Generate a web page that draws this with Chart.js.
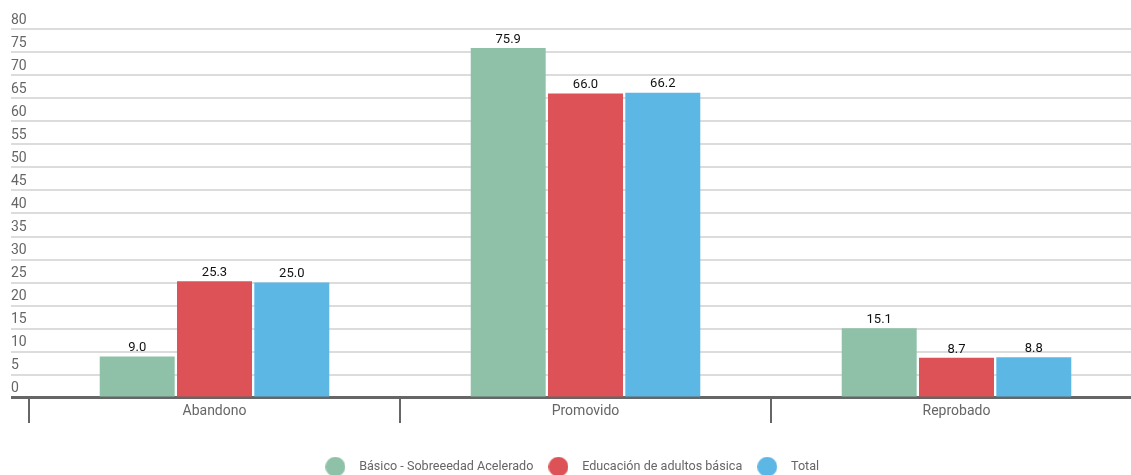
<!DOCTYPE html>
<html>
<head>
<meta charset="utf-8">
<script src="https://cdn.jsdelivr.net/npm/chart.js@4/dist/chart.umd.min.js"></script>
<style>
  html, body { margin: 0; padding: 0; background: #fff; overflow: hidden; }
  #wrap { position: relative; width: 1142px; height: 483px; }
</style>
</head>
<body>
<div id="wrap"><canvas id="estado-chart"></canvas></div>
<script>
// data
let categories = ['Abandono', 'Promovido', 'Reprobado']
let seriesNames = ['Básico - Sobreeedad Acelerado', 'Educación de adultos básica', 'Total']
let basicoValues = [9.0, 75.9, 15.1]
let adultosValues = [25.3, 66.0, 8.7]
let totalValues = [25.0, 66.2, 8.8]
let seriesColors = ['#8fc1a9', '#dc5257', '#5db7e5']

// round legend markers, 20px across
function makeDot(color) {
    let c = document.createElement('canvas')
    c.width = 20
    c.height = 20
    let g = c.getContext('2d')
    g.fillStyle = color
    g.beginPath()
    g.arc(10, 10, 10, 0, Math.PI * 2)
    g.fill()
    return c
}
let dots = seriesColors.map(makeDot)

// draw the value over each bar
let valueLabels = {
    id: 'valueLabels',
    afterLayout(chart) {
        // nudge the legend row a little to the left
        chart.legend.left -= 8
        chart.legend.right -= 8
    },
    afterDatasetsDraw(chart) {
        let ctx = chart.ctx
        ctx.save()
        ctx.font = '13px Roboto'
        ctx.fillStyle = '#111'
        ctx.textAlign = 'center'
        ctx.textBaseline = 'bottom'
        chart.data.datasets.forEach((ds, i) => {
            chart.getDatasetMeta(i).data.forEach((bar, j) => {
                ctx.fillText(ds.data[j].toFixed(1), bar.x, bar.y - 2)
            })
        })
        ctx.restore()
    }
}

let context = document.querySelector('#estado-chart').getContext('2d')

let estadoChart = new Chart(context, {
    type: 'bar',
    data: {
        labels: categories,
        datasets: [
            { label: seriesNames[0], data: basicoValues, backgroundColor: seriesColors[0] },
            { label: seriesNames[1], data: adultosValues, backgroundColor: seriesColors[1] },
            { label: seriesNames[2], data: totalValues, backgroundColor: seriesColors[2] }
        ]
    },
    options: {
        responsive: true,
        maintainAspectRatio: false,
        animation: false,
        layout: { padding: { top: 29, left: 11, right: 0, bottom: 0 } },
        datasets: {
            bar: { categoryPercentage: 0.625, barPercentage: 0.97 }
        },
        plugins: {
            tooltip: { enabled: false },
            legend: {
                position: 'bottom',
                labels: {
                    usePointStyle: true,
                    pointStyleWidth: 35,
                    color: '#666',
                    font: { family: 'Roboto', size: 12.6 },
                    padding: 7.5,
                    generateLabels(chart) {
                        let items = Chart.defaults.plugins.legend.labels.generateLabels(chart)
                        items.forEach((it, i) => { it.pointStyle = dots[i] })
                        return items
                    }
                }
            }
        },
        scales: {
            x: {
                grid: {
                    display: true,
                    drawOnChartArea: false,
                    drawTicks: true,
                    tickLength: 25,
                    color: '#666',
                    lineWidth: 2,
                    offset: true
                },
                border: { display: true, color: '#666', width: 3 },
                ticks: {
                    color: '#666',
                    font: { family: 'Roboto', size: 14 },
                    padding: -20
                },
                afterFit(scale) { scale.height = 55 }
            },
            y: {
                min: 0,
                max: 80,
                position: 'left',
                border: { display: false },
                grid: {
                    drawTicks: true,
                    tickLength: 18,
                    color: (c) => c.tick && c.tick.value === 0 ? '#666' : '#dcdcdc',
                    lineWidth: (c) => c.tick && c.tick.value === 0 ? 3 : 2
                },
                ticks: {
                    stepSize: 5,
                    color: '#666',
                    font: { family: 'Roboto', size: 14 },
                    crossAlign: 'far',
                    labelOffset: -9
                },
                afterFit(scale) { scale.width = 18 }
            }
        }
    },
    plugins: [valueLabels]
})
</script>
</body>
</html>
